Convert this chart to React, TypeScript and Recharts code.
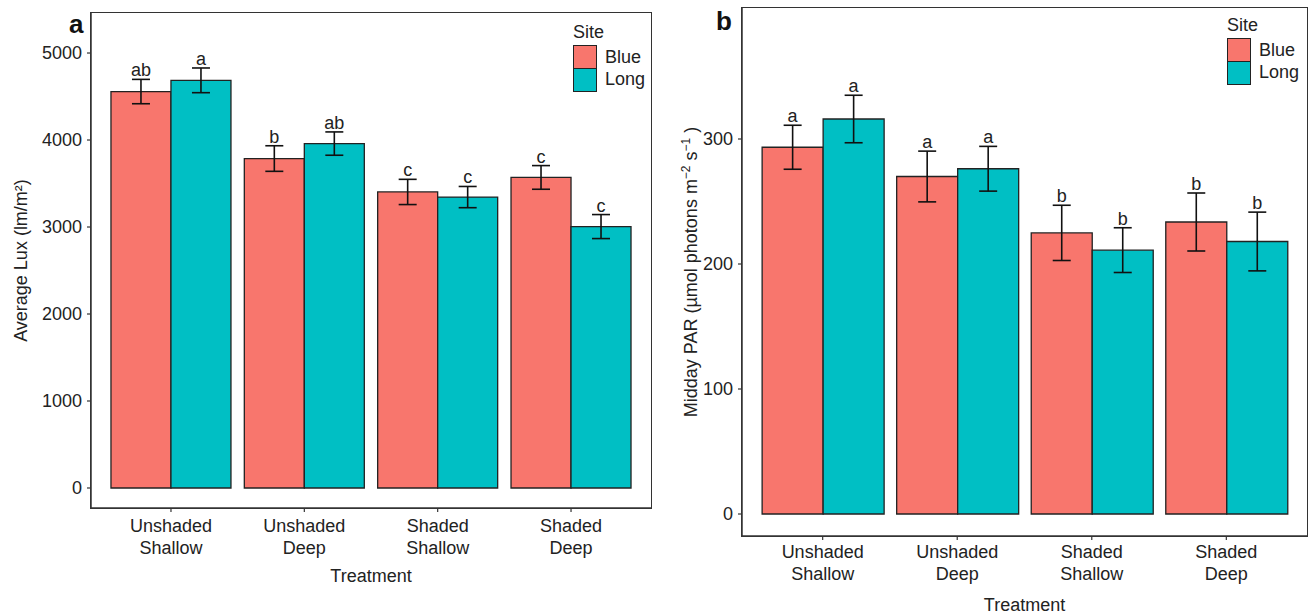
import { BarChart, Bar, XAxis, YAxis, ErrorBar, LabelList, Legend } from "recharts";

const treatments = ["Unshaded Shallow", "Unshaded Deep", "Shaded Shallow", "Shaded Deep"];
const siteNames = ["Blue", "Long"];
const siteColors = ["#F8766D", "#00BFC4"];

// panel a: average lux
const luxBlue = [4557, 3787, 3403, 3570];
const luxLong = [4686, 3959, 3344, 3005];
const luxBlueErr = [140, 147, 145, 136];
const luxLongErr = [142, 134, 122, 138];
const luxBlueLetters = ["ab", "b", "c", "c"];
const luxLongLetters = ["a", "ab", "c", "c"];
const luxTicks = [0, 1000, 2000, 3000, 4000, 5000];

// panel b: midday PAR
const parBlue = [293.4, 270, 224.9, 233.6];
const parLong = [316, 276.2, 211.1, 218];
const parBlueErr = [17.6, 20.3, 22.1, 23.2];
const parLongErr = [19, 17.9, 17.9, 23.5];
const parBlueLetters = ["a", "a", "b", "b"];
const parLongLetters = ["a", "a", "b", "b"];
const parTicks = [0, 100, 200, 300];

const INK = "#222";
const FONT = "'Liberation Sans', Arial, Helvetica, sans-serif";
const CHART_H = 615;
const X_AXIS_H = 60;

function buildRows(blue: number[], long: number[], blueErr: number[], longErr: number[], bl: string[], ll: string[]) {
  return treatments.map((t, i) => ({
    treatment: t,
    blue: blue[i],
    long: long[i],
    blueErr: blueErr[i],
    longErr: longErr[i],
    blueLetter: bl[i],
    longLetter: ll[i],
  }));
}

// letter sits just above the error bar cap; px per unit taken from the bar itself
const letterLabel = (vals: number[], errs: number[]) => (props: any) => {
  const { x, y, width, height, index, value } = props;
  const perUnit = height / vals[index];
  const top = y - errs[index] * perUnit;
  return (
    <text x={x + width / 2} y={top - 3} textAnchor="middle" fontSize={18} fill={INK}>
      {value}
    </text>
  );
};

const TreatmentTick = (props: any) => {
  const { x, y, payload, firstDy } = props;
  const lines = String(payload.value).split(" ");
  return (
    <text x={x} y={y} textAnchor="middle" fontSize={18} fill={INK}>
      {lines.map((l, i) => (
        <tspan key={i} x={x} dy={i === 0 ? firstDy : 21.5}>
          {l}
        </tspan>
      ))}
    </text>
  );
};

const SiteLegend = ({ payload }: any) => (
  <div style={{ fontSize: 18, color: INK, fontFamily: FONT }}>
    <div style={{ lineHeight: "20px", height: 24 }}>Site</div>
    {(payload ?? []).map((p: any, i: number) => (
      <div key={p.value} style={{ display: "flex", alignItems: "center", height: 23.5, marginTop: i ? -1 : 0 }}>
        <span
          style={{
            display: "inline-block",
            width: 24,
            height: 24,
            background: p.color,
            border: "1.5px solid #222",
            boxSizing: "border-box",
            marginRight: 8,
          }}
        />
        {p.value}
      </div>
    ))}
  </div>
);

interface PanelProps {
  width: number;
  margin: { top: number; right: number; left: number; bottom: number };
  yWidth: number;
  pad: number;
  domain: [number, number];
  ticks: number[];
  blue: number[];
  long: number[];
  blueErr: number[];
  longErr: number[];
  blueLetters: string[];
  longLetters: string[];
  yTitle: React.ReactNode;
  yTitleX: number;
  xTitleDy: number;
  tickDy: number;
  legendPos: { top: number; left: number };
}

function Panel(p: PanelProps) {
  const rows = buildRows(p.blue, p.long, p.blueErr, p.longErr, p.blueLetters, p.longLetters);
  // panel border (ggplot panel.border) drawn over the plot area
  const frameLeft = p.margin.left + p.yWidth;
  const frameTop = p.margin.top;
  const frameW = p.width - frameLeft - p.margin.right;
  const frameH = CHART_H - frameTop - p.margin.bottom - X_AXIS_H;
  return (
    <div style={{ position: "relative", width: p.width, height: CHART_H }}>
      <BarChart width={p.width} height={CHART_H} data={rows} margin={p.margin} barCategoryGap="5%" barGap={0}>
        <XAxis
          dataKey="treatment"
          type="category"
          height={X_AXIS_H}
          padding={{ left: p.pad, right: p.pad }}
          interval={0}
          tickSize={4}
          axisLine={{ stroke: "#333", strokeWidth: 1.5 }}
          tickLine={{ stroke: "#333", strokeWidth: 1.2 }}
          tick={<TreatmentTick firstDy={p.tickDy} />}
          label={{
            content: (lp: any) => {
              const vb = lp.viewBox;
              return (
                <text x={vb.x + vb.width / 2} y={vb.y + p.xTitleDy} textAnchor="middle" fontSize={18} fill={INK}>
                  Treatment
                </text>
              );
            },
          }}
        />
        <YAxis
          width={p.yWidth}
          domain={p.domain}
          allowDataOverflow
          ticks={p.ticks}
          interval={0}
          tickSize={4}
          tickMargin={5}
          axisLine={{ stroke: "#333", strokeWidth: 1.5 }}
          tickLine={{ stroke: "#333", strokeWidth: 1.2 }}
          tick={{ fontSize: 18, fill: INK }}
          label={{
            content: (lp: any) => {
              const vb = lp.viewBox;
              const cx = vb.x + p.yTitleX;
              const cy = vb.y + vb.height / 2;
              return (
                <text x={cx} y={cy} textAnchor="middle" fontSize={18} fill={INK} transform={`rotate(-90, ${cx}, ${cy})`}>
                  {p.yTitle}
                </text>
              );
            },
          }}
        />
        <Legend
          layout="vertical"
          align="center"
          verticalAlign="middle"
          content={<SiteLegend />}
          wrapperStyle={{ position: "absolute", top: p.legendPos.top, left: p.legendPos.left, width: 90, height: 80 }}
        />
        <Bar dataKey="blue" name={siteNames[0]} fill={siteColors[0]} stroke="#222" strokeWidth={1.3} isAnimationActive={false}>
          <ErrorBar dataKey="blueErr" direction="y" width={9} stroke="#111" strokeWidth={1.6} />
          <LabelList dataKey="blueLetter" content={letterLabel(p.blue, p.blueErr)} />
        </Bar>
        <Bar dataKey="long" name={siteNames[1]} fill={siteColors[1]} stroke="#222" strokeWidth={1.3} isAnimationActive={false}>
          <ErrorBar dataKey="longErr" direction="y" width={9} stroke="#111" strokeWidth={1.6} />
          <LabelList dataKey="longLetter" content={letterLabel(p.long, p.longErr)} />
        </Bar>
      </BarChart>
      <div
        style={{
          position: "absolute",
          left: frameLeft - 0.75,
          top: frameTop - 0.75,
          width: frameW + 1.5,
          height: frameH + 1.5,
          border: "1.5px solid #333",
          boxSizing: "border-box",
          pointerEvents: "none",
        }}
      />
    </div>
  );
}

export default function App() {
  return (
    <div style={{ position: "absolute", left: 0, top: 0, width: 1309, height: 615, background: "#fff", fontFamily: FONT }}>
      <div style={{ position: "absolute", left: 0, top: 0 }}>
        <Panel
          width={660}
          margin={{ top: 13, right: 9, left: 0, bottom: 47 }}
          yWidth={91}
          pad={13.3}
          domain={[-230, 5460]}
          ticks={luxTicks}
          blue={luxBlue}
          long={luxLong}
          blueErr={luxBlueErr}
          longErr={luxLongErr}
          blueLetters={luxBlueLetters}
          longLetters={luxLongLetters}
          yTitle="Average Lux (lm/m²)"
          yTitleX={27}
          xTitleDy={74}
          tickDy={18}
          legendPos={{ top: 21.5, left: 573 }}
        />
      </div>
      <div style={{ position: "absolute", left: 660, top: 0 }}>
        <Panel
          width={649}
          margin={{ top: 8, right: 2, left: 0, bottom: 19 }}
          yWidth={82}
          pad={13.4}
          domain={[-17.6, 404.8]}
          ticks={parTicks}
          blue={parBlue}
          long={parLong}
          blueErr={parBlueErr}
          longErr={parLongErr}
          blueLetters={parBlueLetters}
          longLetters={parLongLetters}
          yTitle={
            <>
              <tspan>Midday PAR (µmol photons m</tspan>
              <tspan fontSize={12} dy={-7}>−2</tspan>
              <tspan dy={7}> s</tspan>
              <tspan fontSize={12} dy={-7}>−1</tspan>
              <tspan dy={7}> )</tspan>
            </>
          }
          yTitleX={37}
          xTitleDy={75}
          tickDy={16}
          legendPos={{ top: 14.5, left: 567 }}
        />
      </div>
      <svg width={1309} height={615} style={{ position: "absolute", left: 0, top: 0, pointerEvents: "none" }}>
        <text x={69} y={33} fontSize={26} fontWeight="bold" fill="#111">a</text>
        <text x={716} y={30} fontSize={26} fontWeight="bold" fill="#111">b</text>
      </svg>
    </div>
  );
}
